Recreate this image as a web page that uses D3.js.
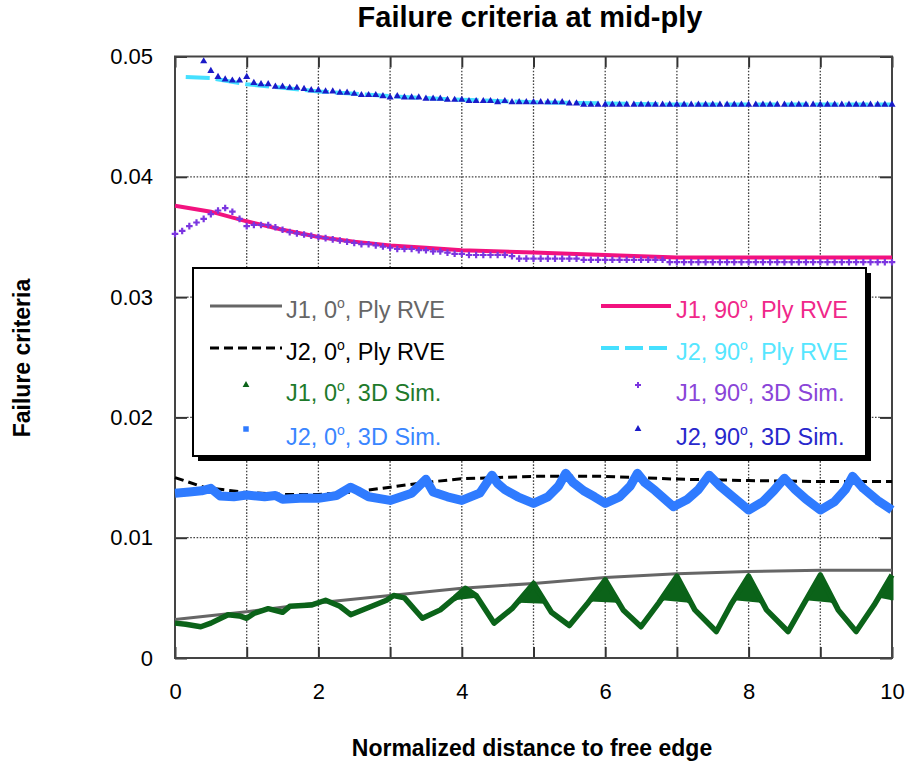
<!DOCTYPE html>
<html>
<head>
<meta charset="utf-8">
<title>Failure criteria at mid-ply</title>
<script src="https://cdn.jsdelivr.net/npm/d3@7"></script>
<style>
  body { margin: 0; background: #fff; }
  text { font-family: Arial, "Liberation Sans", sans-serif; }
</style>
</head>
<body>
<script>
// x positions / values
var xTicks = [0, 1, 2, 3, 4, 5, 6, 7, 8, 9, 10];
var yTicks = [0, 0.01, 0.02, 0.03, 0.04, 0.05];

// Ply RVE curves
var rveX0 = [0, 1, 2, 3, 4, 5, 6, 7, 8, 9, 10];
var j1Rve0 = [0.0032, 0.00385, 0.0046, 0.0052, 0.0058, 0.0062, 0.0067, 0.0070, 0.0072, 0.0073, 0.0073];
var j2RveX0 = [0, 0.4, 1, 1.5, 2, 2.5, 3, 3.5, 4, 5, 6, 7, 8, 9, 10];
var j2Rve0 = [0.0150, 0.0142, 0.01375, 0.0136, 0.0136, 0.0138, 0.0142, 0.0146, 0.0149, 0.0151, 0.0151, 0.01487, 0.01475, 0.01467, 0.01467];
var j1RveX90 = [0, 0.5, 1, 1.5, 2, 2.5, 3, 3.5, 4, 5, 6, 7, 8, 9, 10];
var j1Rve90 = [0.0376, 0.0371, 0.0363, 0.0356, 0.0350, 0.0346, 0.0343, 0.0341, 0.0339, 0.0337, 0.0335, 0.0333, 0.0333, 0.0333, 0.0333];
var j2RveX90 = [0.15, 0.5, 1, 1.5, 2, 3, 4, 5, 6, 7, 8, 9, 10];
var j2Rve90 = [0.0483, 0.0482, 0.0477, 0.0474, 0.0471, 0.0467, 0.0464, 0.0462, 0.0461, 0.0460, 0.0460, 0.0460, 0.0460];

// 3D simulation, 0 deg (dense marker bands)
var j1SimX0 = [0, 0.15, 0.36, 0.5, 0.74, 0.9, 1.0, 1.1, 1.3, 1.5, 1.6, 1.9, 2.1, 2.3, 2.45, 2.7, 2.95, 3.05, 3.2, 3.45, 3.7, 3.9, 4.05, 4.2, 4.45, 4.7, 5.0, 5.25, 5.5, 5.75, 6.0, 6.25, 6.5, 6.75, 7.0, 7.25, 7.55, 7.75, 8.0, 8.25, 8.55, 8.75, 9.0, 9.25, 9.5, 9.75, 10];
var j1Sim0 = [0.0029, 0.0028, 0.0026, 0.0029, 0.0036, 0.0035, 0.0033, 0.0037, 0.0041, 0.0038, 0.0043, 0.0044, 0.0048, 0.0043, 0.0036, 0.0042, 0.0048, 0.0052, 0.0050, 0.0033, 0.0040, 0.0050, 0.0058, 0.0052, 0.0029, 0.0041, 0.0062, 0.0038, 0.0027, 0.0045, 0.0065, 0.0040, 0.0026, 0.0046, 0.0068, 0.0040, 0.0022, 0.0044, 0.0068, 0.0040, 0.0022, 0.0043, 0.0069, 0.0040, 0.0022, 0.0044, 0.0069];
// inner points filling the peaks ("A" shapes)
var j1SimInX0 = [3.9, 4.05, 4.2, null, 4.8, 5.0, 5.17, null, 5.8, 6.0, 6.17, null, 6.8, 7.0, 7.17, null, 7.8, 8.0, 8.17, null, 8.8, 9.0, 9.17, null, 9.82, 10, 10];
var j1SimIn0 = [0.0048, 0.0056, 0.0050, null, 0.0046, 0.0060, 0.0045, null, 0.0047, 0.0063, 0.0046, null, 0.0048, 0.0066, 0.0046, null, 0.0048, 0.0066, 0.0046, null, 0.0048, 0.0067, 0.0046, null, 0.0050, 0.0066, 0.0048];
var j2SimX0 = [0, 0.2, 0.37, 0.5, 0.63, 0.82, 1.0, 1.25, 1.4, 1.5, 1.8, 2.0, 2.25, 2.45, 2.55, 2.7, 3.0, 3.3, 3.5, 3.6, 3.8, 4.0, 4.25, 4.42, 4.5, 4.6, 4.78, 5.0, 5.2, 5.35, 5.45, 5.55, 5.7, 5.85, 6.0, 6.2, 6.35, 6.45, 6.55, 6.7, 6.95, 7.15, 7.3, 7.45, 7.6, 7.8, 8.0, 8.2, 8.35, 8.5, 8.65, 8.8, 9.0, 9.2, 9.35, 9.45, 9.6, 9.8, 10];
var j2Sim0 = [0.0137, 0.0138, 0.0139, 0.0141, 0.01347, 0.0134, 0.01355, 0.0134, 0.0135, 0.0132, 0.0133, 0.01327, 0.0135, 0.0142, 0.0139, 0.0134, 0.0131, 0.0137, 0.01485, 0.0138, 0.0134, 0.0131, 0.0137, 0.0152, 0.0145, 0.0140, 0.0134, 0.01286, 0.0134, 0.0143, 0.01535, 0.0146, 0.0139, 0.0134, 0.01286, 0.0134, 0.0143, 0.01535, 0.0146, 0.0139, 0.01258, 0.0132, 0.0140, 0.0152, 0.0143, 0.0133, 0.0123, 0.0130, 0.0139, 0.01494, 0.0140, 0.0132, 0.0123, 0.0130, 0.0140, 0.0151, 0.0141, 0.0131, 0.0123];

// 3D simulation, 90 deg (discrete markers every 0.1)
var simX90 = [0, 0.1, 0.2, 0.3, 0.4, 0.5, 0.6, 0.7, 0.8, 0.9, 1, 1.1, 1.2, 1.3, 1.4, 1.5, 1.6, 1.7, 1.8, 1.9, 2, 2.1, 2.2, 2.3, 2.4, 2.5, 2.6, 2.7, 2.8, 2.9, 3, 3.1, 3.2, 3.3, 3.4, 3.5, 3.6, 3.7, 3.8, 3.9, 4, 4.1, 4.2, 4.3, 4.4, 4.5, 4.6, 4.7, 4.8, 4.9, 5, 5.1, 5.2, 5.3, 5.4, 5.5, 5.6, 5.7, 5.8, 5.9, 6, 6.1, 6.2, 6.3, 6.4, 6.5, 6.6, 6.7, 6.8, 6.9, 7, 7.1, 7.2, 7.3, 7.4, 7.5, 7.6, 7.7, 7.8, 7.9, 8, 8.1, 8.2, 8.3, 8.4, 8.5, 8.6, 8.7, 8.8, 8.9, 9, 9.1, 9.2, 9.3, 9.4, 9.5, 9.6, 9.7, 9.8, 9.9, 10];
var j1Sim90 = [0.03525, 0.0355, 0.0359, 0.0362, 0.0365, 0.0369, 0.0372, 0.0374, 0.0371, 0.0365,
  0.0359, 0.0360, 0.0360, 0.0360, 0.0358, 0.0356, 0.0354, 0.0353, 0.0352, 0.0351,
  0.0350, 0.0349, 0.0348, 0.0347, 0.0346, 0.0345, 0.0344, 0.0344, 0.0343, 0.0342,
  0.0341, 0.0340, 0.0340, 0.0340, 0.0339, 0.0339, 0.0338, 0.0338, 0.0337, 0.0336,
  0.0336, 0.0335, 0.0335, 0.0335, 0.0335, 0.0335, 0.0335, 0.0334, 0.0332, 0.0332,
  0.0332, 0.0332, 0.0332, 0.0332, 0.0332, 0.0332, 0.0332, 0.0331, 0.0331, 0.0331,
  0.0331, 0.0331, 0.0331, 0.0331, 0.0331, 0.0331, 0.0331, 0.0331, 0.0331, 0.0329,
  0.0329, 0.0329, 0.0329, 0.0329, 0.0329, 0.0329, 0.0329, 0.0329, 0.0329, 0.0329,
  0.0329, 0.0329, 0.0329, 0.0329, 0.0329, 0.0329, 0.0329, 0.0329, 0.0329, 0.0329,
  0.0329, 0.0329, 0.0329, 0.0329, 0.0329, 0.0329, 0.0329, 0.0329, 0.0329, 0.0329, 0.0329];
var j2Sim90 = [null, null, null, null, 0.0496, 0.0488, 0.0483, 0.0481, 0.0480, 0.0480,
  0.0483, 0.0478, 0.0477, 0.0477, 0.0475, 0.0475, 0.0474, 0.0474, 0.0473, 0.0472,
  0.0472, 0.0471, 0.0471, 0.0470, 0.0470, 0.0469, 0.0468, 0.0468, 0.0468, 0.0467,
  0.0466, 0.0467, 0.0466, 0.0466, 0.0466, 0.0465, 0.0465, 0.0465, 0.0464, 0.0464,
  0.0464, 0.0463, 0.0463, 0.0463, 0.0463, 0.0462, 0.0463, 0.0462, 0.0462, 0.0462,
  0.0462, 0.0462, 0.0462, 0.0462, 0.0462, 0.0461, 0.0461, 0.0460, 0.0460, 0.0460,
  0.0460, 0.0460, 0.0460, 0.0460, 0.0460, 0.0460, 0.0460, 0.0460, 0.0460, 0.0460,
  0.0460, 0.0460, 0.0460, 0.0460, 0.0460, 0.0460, 0.0460, 0.0460, 0.0460, 0.0460,
  0.0460, 0.0460, 0.0460, 0.0460, 0.0460, 0.0460, 0.0460, 0.0460, 0.0460, 0.0460,
  0.0460, 0.0460, 0.0460, 0.0460, 0.0460, 0.0460, 0.0460, 0.0460, 0.0460, 0.0460, 0.0460];

var svgWidth = 907, svgHeight = 763;
var plotL = 175, plotR = 892, plotT = 56.5, plotB = 658;

var svg = d3.select("body").append("svg")
  .attr("width", svgWidth).attr("height", svgHeight);

var x = d3.scaleLinear().domain([0, 10]).range([plotL, plotR]);
var y = d3.scaleLinear().domain([0, 0.05]).range([plotB, plotT]);

function zip(xs, ys) {
  return xs.map(function(v, i) { return [v, ys[i]]; });
}

// dotted grid
var grid = svg.append("g").attr("stroke", "#444").attr("stroke-width", 1.3)
  .attr("stroke-dasharray", "1.6,1.6");
grid.selectAll("line.v").data(xTicks.slice(1, -1)).enter().append("line")
  .attr("x1", function(d) { return x(d); }).attr("x2", function(d) { return x(d); })
  .attr("y1", plotT + 11).attr("y2", plotB - 11);
grid.selectAll("line.h").data(yTicks.slice(1, -1)).enter().append("line")
  .attr("y1", function(d) { return y(d); }).attr("y2", function(d) { return y(d); })
  .attr("x1", plotL + 12).attr("x2", plotR - 12);

// axes
var axisStyle = function(g) {
  g.select(".domain").remove();
  g.selectAll(".tick line").attr("stroke", "#333").attr("stroke-width", 2);
  g.selectAll("text").attr("font-size", 22).attr("fill", "#000")
    .style("font-family", "Arial, 'Liberation Sans', sans-serif");
};
svg.append("g").attr("transform", "translate(0," + plotB + ")")
  .call(d3.axisBottom(x).tickValues(xTicks).tickSize(-11).tickPadding(25)
    .tickFormat(function(d) { return d % 2 === 0 ? d : ""; }))
  .call(axisStyle);
svg.append("g").attr("transform", "translate(0," + plotT + ")")
  .call(d3.axisTop(x).tickValues(xTicks).tickSize(-11).tickFormat(""))
  .call(axisStyle);
svg.append("g").attr("transform", "translate(" + plotL + ",0)")
  .call(d3.axisLeft(y).tickValues(yTicks).tickSize(-12).tickPadding(22)
    .tickFormat(function(d) { return d === 0 ? "0" : d3.format(".2f")(d); }))
  .call(axisStyle);
svg.append("g").attr("transform", "translate(" + plotR + ",0)")
  .call(d3.axisRight(y).tickValues(yTicks).tickSize(-12).tickFormat(""))
  .call(axisStyle);

svg.append("rect").attr("x", plotL).attr("y", plotT)
  .attr("width", plotR - plotL).attr("height", plotB - plotT)
  .attr("fill", "none").attr("stroke", "#444").attr("stroke-width", 2);

var line = d3.line()
  .defined(function(d) { return d[0] !== null && d[1] !== null; })
  .x(function(d) { return x(d[0]); }).y(function(d) { return y(d[1]); });

var plot = svg.append("g");

// J1, 0 deg, Ply RVE
plot.append("path").datum(zip(rveX0, j1Rve0)).attr("d", line)
  .attr("fill", "none").attr("stroke", "#666").attr("stroke-width", 3);
// J2, 0 deg, Ply RVE
plot.append("path").datum(zip(j2RveX0, j2Rve0)).attr("d", line)
  .attr("fill", "none").attr("stroke", "#000").attr("stroke-width", 3)
  .attr("stroke-dasharray", "9,5");
// J1, 0 deg, 3D Sim.
plot.append("path").datum(zip(j1SimX0, j1Sim0)).attr("d", line)
  .attr("fill", "none").attr("stroke", "#0b6319").attr("stroke-width", 5.5)
  .attr("stroke-linejoin", "round");
plot.append("path").datum(zip(j1SimInX0, j1SimIn0)).attr("d", line)
  .attr("fill", "#0b6319").attr("stroke", "#0b6319").attr("stroke-width", 3)
  .attr("stroke-linejoin", "round");
// J2, 0 deg, 3D Sim.
plot.append("path").datum(zip(j2SimX0, j2Sim0)).attr("d", line)
  .attr("fill", "none").attr("stroke", "#2f7bff").attr("stroke-width", 9)
  .attr("stroke-linejoin", "round");
// J1, 90 deg, Ply RVE
plot.append("path").datum(zip(j1RveX90, j1Rve90)).attr("d", line)
  .attr("fill", "none").attr("stroke", "#f2127f").attr("stroke-width", 4);
// J2, 90 deg, Ply RVE
plot.append("path").datum(zip(j2RveX90, j2Rve90)).attr("d", line)
  .attr("fill", "none").attr("stroke", "#45e0ff").attr("stroke-width", 4)
  .attr("stroke-dasharray", "24,6");
// J1, 90 deg, 3D Sim.
plot.selectAll("path.j1s90").data(zip(simX90, j1Sim90)).enter().append("path")
  .attr("class", "j1s90")
  .attr("transform", function(d) { return "translate(" + x(d[0]) + "," + y(d[1]) + ")"; })
  .attr("d", d3.symbol().type(d3.symbolCross).size(24))
  .attr("fill", "#7b35e0");
// J2, 90 deg, 3D Sim.
plot.selectAll("path.j2s90").data(zip(simX90, j2Sim90).filter(function(d) { return d[1] !== null; }))
  .enter().append("path").attr("class", "j2s90")
  .attr("transform", function(d) { return "translate(" + x(d[0]) + "," + y(d[1]) + ")"; })
  .attr("d", d3.symbol().type(d3.symbolTriangle).size(22))
  .attr("fill", "#1a1ac8");

// legend
var legend = svg.append("g");
legend.append("rect").attr("x", 198).attr("y", 273).attr("width", 673).attr("height", 188)
  .attr("fill", "#000");
legend.append("rect").attr("x", 193).attr("y", 268).attr("width", 673).attr("height", 188)
  .attr("fill", "#fff").attr("stroke", "#000").attr("stroke-width", 2);

var legendItems = [
  {j: "J1", a: "0", s: "Ply RVE", col: 0, row: 0, color: "#666", text: "#666", kind: "line", w: 3},
  {j: "J2", a: "0", s: "Ply RVE", col: 0, row: 1, color: "#000", text: "#000", kind: "line", w: 3, dash: "9,5"},
  {j: "J1", a: "0", s: "3D Sim.", col: 0, row: 2, color: "#0b6319", text: "#1e7a2b", kind: "tri"},
  {j: "J2", a: "0", s: "3D Sim.", col: 0, row: 3, color: "#2f7bff", text: "#3a86ff", kind: "sq"},
  {j: "J1", a: "90", s: "Ply RVE", col: 1, row: 0, color: "#f2127f", text: "#f0288a", kind: "line", w: 4},
  {j: "J2", a: "90", s: "Ply RVE", col: 1, row: 1, color: "#45e0ff", text: "#55e6ff", kind: "line", w: 4, dash: "18,6"},
  {j: "J1", a: "90", s: "3D Sim.", col: 1, row: 2, color: "#7b35e0", text: "#8a45d8", kind: "cross"},
  {j: "J2", a: "90", s: "3D Sim.", col: 1, row: 3, color: "#1a1ac8", text: "#2828cc", kind: "tri"}
];
var rowY = [310, 352, 393, 437];
var colX = [{x1: 210, x2: 282, m: 246, t: 286}, {x1: 601, x2: 671, m: 638, t: 676}];

legendItems.forEach(function(d) {
  var c = colX[d.col], yy = rowY[d.row];
  if (d.kind === "line") {
    legend.append("line").attr("x1", c.x1).attr("x2", c.x2).attr("y1", yy - 4).attr("y2", yy - 4)
      .attr("stroke", d.color).attr("stroke-width", d.w)
      .attr("stroke-dasharray", d.dash || null);
  } else {
    var t = d.kind === "tri" ? d3.symbolTriangle : d.kind === "sq" ? d3.symbolSquare : d3.symbolCross;
    legend.append("path").attr("transform", "translate(" + c.m + "," + (yy - 8) + ")")
      .attr("d", d3.symbol().type(t).size(d.kind === "sq" ? 30 : 20)).attr("fill", d.color);
  }
  var tx = legend.append("text").attr("x", c.t).attr("y", yy + 8)
    .attr("font-size", 23.5).attr("fill", d.text);
  tx.append("tspan").text(d.j + ", " + d.a);
  tx.append("tspan").attr("font-size", 14).attr("dy", -10).text("o");
  tx.append("tspan").attr("dy", 10).text(", " + d.s);
});

// titles
svg.append("text").attr("x", 530).attr("y", 27).attr("text-anchor", "middle")
  .attr("font-size", 29).attr("font-weight", "bold").text("Failure criteria at mid-ply");
svg.append("text").attr("x", 532).attr("y", 756).attr("text-anchor", "middle")
  .attr("font-size", 23).attr("font-weight", "bold").text("Normalized distance to free edge");
svg.append("text").attr("transform", "translate(30,358) rotate(-90)").attr("text-anchor", "middle")
  .attr("font-size", 23).attr("font-weight", "bold").text("Failure criteria");
</script>
</body>
</html>
